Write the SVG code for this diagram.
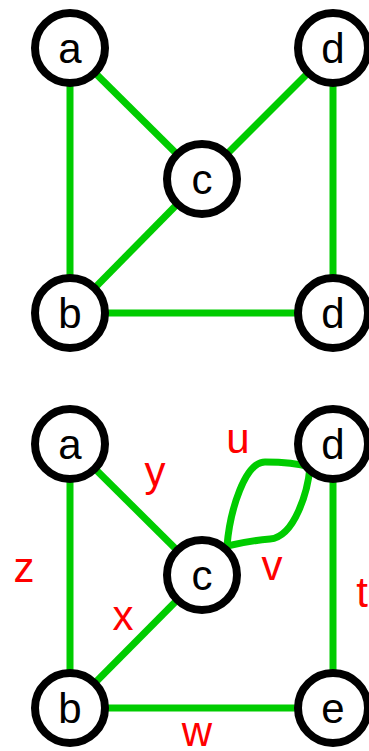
<svg xmlns="http://www.w3.org/2000/svg" width="369" height="751" viewBox="0 0 369 751">
<style>
.e{stroke:#00cc00;stroke-width:7;fill:none}
.n circle{fill:#fff;stroke:#000;stroke-width:8}
.n text{font-family:"Liberation Sans",Arial,sans-serif;font-size:42px;fill:#000;text-anchor:middle}
.l{font-family:"Liberation Sans",Arial,sans-serif;font-size:42px;fill:#ff0000;text-anchor:middle}
</style>
<rect width="369" height="751" fill="#fff"/>
<g id="edges">
<line class="e" x1="70" y1="48" x2="70" y2="313"/>
<line class="e" x1="70" y1="48" x2="202" y2="179"/>
<line class="e" x1="333" y1="48" x2="202" y2="179"/>
<line class="e" x1="202" y1="179" x2="70" y2="313"/>
<line class="e" x1="333" y1="48" x2="333" y2="313"/>
<line class="e" x1="70" y1="313" x2="333" y2="313"/>
<line class="e" x1="70" y1="444" x2="70" y2="708"/>
<line class="e" x1="70" y1="444" x2="202" y2="575"/>
<line class="e" x1="202" y1="575" x2="70" y2="708"/>
<line class="e" x1="70" y1="708" x2="333" y2="708"/>
<line class="e" x1="333" y1="444" x2="333" y2="708"/>
<path class="e" d="M227,546 C230,510 245,462 265,462 C285,462 300,464 310,467"/>
<path class="e" d="M227,546 C240,543 258,540 270,539 C295,537 308,490 310,467"/>
</g>
<g id="labels">
<text class="l" x="238" y="453">u</text>
<text class="l" x="155" y="486">y</text>
<text class="l" x="24" y="582">z</text>
<text class="l" x="123" y="630">x</text>
<text class="l" x="272" y="580">v</text>
<text class="l" x="362" y="607">t</text>
<text class="l" x="197" y="746">w</text>
</g>
<g id="n1a" class="n"><circle cx="70" cy="48" r="35"/><text x="70" y="63">a</text></g>
<g id="n1d" class="n"><circle cx="333" cy="48" r="35"/><text x="333" y="63">d</text></g>
<g id="n1c" class="n"><circle cx="202" cy="179" r="35"/><text x="202" y="194">c</text></g>
<g id="n1b" class="n"><circle cx="70" cy="313" r="35"/><text x="70" y="328">b</text></g>
<g id="n1d2" class="n"><circle cx="333" cy="313" r="35"/><text x="333" y="328">d</text></g>
<g id="n2a" class="n"><circle cx="70" cy="444" r="35"/><text x="70" y="459">a</text></g>
<g id="n2d" class="n"><circle cx="333" cy="444" r="35"/><text x="333" y="459">d</text></g>
<g id="n2c" class="n"><circle cx="202" cy="575" r="35"/><text x="202" y="590">c</text></g>
<g id="n2b" class="n"><circle cx="70" cy="708" r="35"/><text x="70" y="723">b</text></g>
<g id="n2e" class="n"><circle cx="333" cy="708" r="35"/><text x="333" y="723">e</text></g>
</svg>
